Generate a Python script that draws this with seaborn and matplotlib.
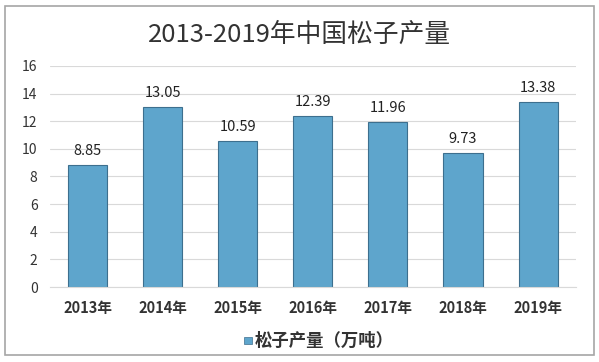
import matplotlib
matplotlib.use("Agg")
import matplotlib.pyplot as plt
import seaborn as sns
import pandas as pd
from matplotlib.patches import Rectangle

years = ["2013年", "2014年", "2015年", "2016年", "2017年", "2018年", "2019年"]
output = [8.85, 13.05, 10.59, 12.39, 11.96, 9.73, 13.38]
series_name = "松子产量（万吨）"

sns.set_style("white")
plt.rcParams['font.family'] = ['Noto Sans CJK SC', 'DejaVu Sans']

df = pd.DataFrame({"year": years, "value": output})

fig = plt.figure(figsize=(5.99, 3.62), dpi=100)
fig.patch.set_facecolor("white")
ax = fig.add_axes([0.0835, 0.207, 0.8775, 0.611])

sns.barplot(data=df, x="year", y="value", color="#5ea5cc", width=0.52,
            edgecolor="#3d6f8e", linewidth=0.8, saturation=1, ax=ax)

for i, v in enumerate(output):
    ax.text(i, v + 0.5, f"{v:.2f}", ha="center", va="bottom", fontsize=10.5, color="#222222")

ax.set_ylim(0, 16)
ax.set_yticks(range(0, 17, 2))
ax.yaxis.grid(True, color="#d9d9d9", linewidth=0.8)
ax.set_axisbelow(True)
for s in ["top", "right", "left"]:
    ax.spines[s].set_visible(False)
ax.spines["bottom"].set_color("#d9d9d9")
ax.tick_params(axis="both", length=0, colors="#333333")
ax.tick_params(axis="y", labelsize=10, pad=9)
ax.tick_params(axis="x", labelsize=10.5, pad=9)
for lab in ax.get_xticklabels():
    lab.set_fontweight("bold")
ax.set_xlabel("")
ax.set_ylabel("")

fig.text(0.5, 0.905, "2013-2019年中国松子产量", ha="center", va="center",
         fontsize=18.5, fontweight="light", color="#333333")

# legend
fig.patches.append(Rectangle((0.408, 0.049), 0.012, 0.02, transform=fig.transFigure,
                             facecolor="#5ea5cc", edgecolor="#3d6f8e", linewidth=0.5))
fig.text(0.425, 0.058, series_name, ha="left", va="center", fontsize=12.5,
         fontweight="bold", color="#333333")

# outer border
fig.patches.append(Rectangle((0.009, 0.019), 0.982, 0.965, transform=fig.transFigure,
                             fill=False, edgecolor="#a6a6a6", linewidth=1.2))

fig.savefig("out.png", dpi=100)
